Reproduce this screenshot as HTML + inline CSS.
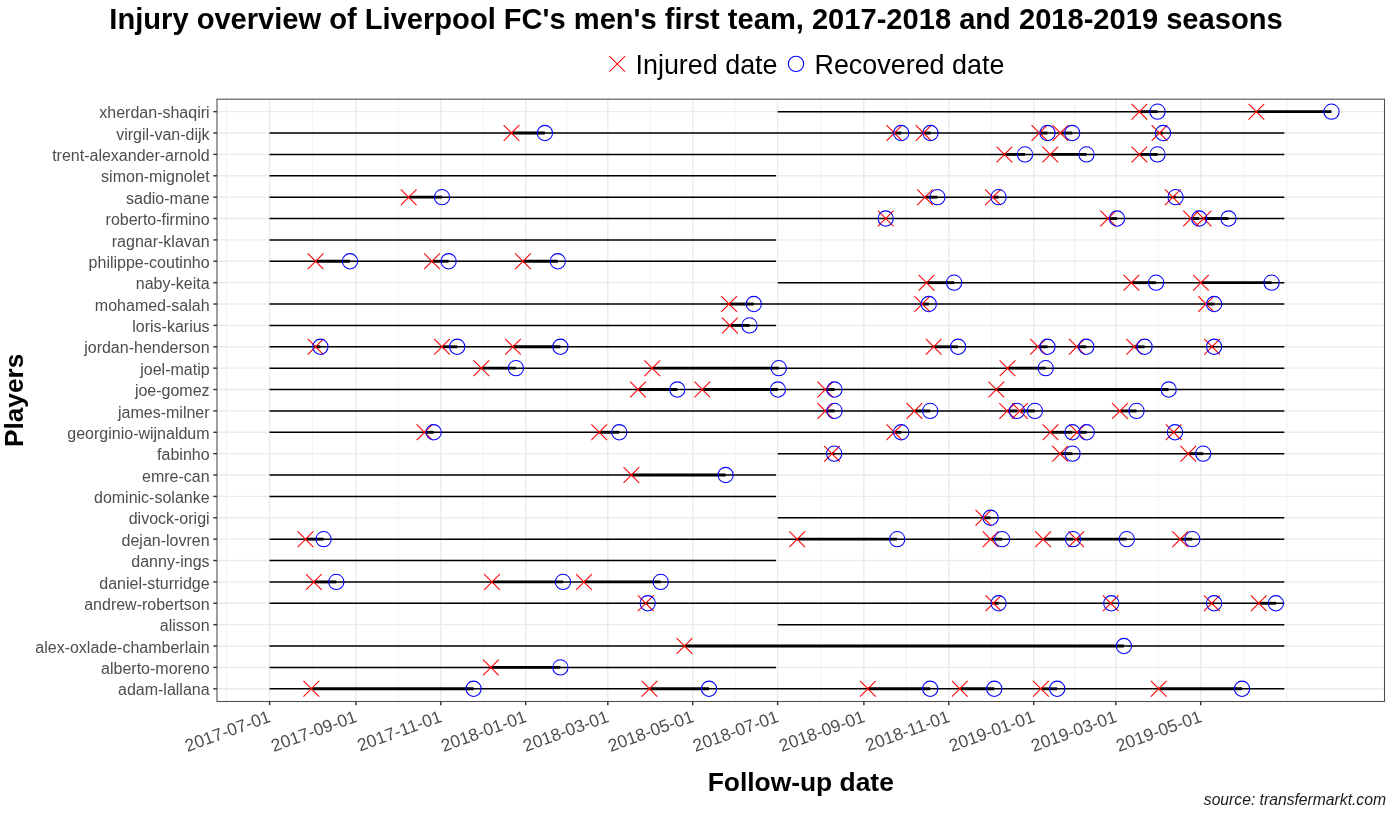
<!DOCTYPE html><html><head><meta charset="utf-8"><style>html,body{margin:0;padding:0;background:#fff;width:1392px;height:816px;overflow:hidden}svg{display:block;will-change:transform}text{font-family:"Liberation Sans",sans-serif}</style></head><body>
<svg width="1392" height="816" viewBox="0 0 1392 816">
<rect x="0" y="0" width="1392" height="816" fill="#fff"/>
<text x="696" y="28.7" text-anchor="middle" font-size="29.1" font-weight="700" fill="#000">Injury overview of Liverpool FC's men's first team, 2017-2018 and 2018-2019 seasons</text>
<g stroke="#FF0000" stroke-width="1.05"><line x1="609.35" y1="56.05" x2="625.05" y2="71.75"/><line x1="609.35" y1="71.75" x2="625.05" y2="56.05"/></g>
<circle cx="796" cy="63.9" r="7.65" fill="none" stroke="#0000FF" stroke-width="1.05"/>
<text x="635.5" y="73.7" font-size="26.9" fill="#000">Injured date</text>
<text x="814.5" y="73.9" font-size="26.9" fill="#000">Recovered date</text>
<g stroke="#EBEBEB"><line x1="226.45" y1="99.2" x2="226.45" y2="701.5" stroke-width="0.71"/><line x1="312.75" y1="99.2" x2="312.75" y2="701.5" stroke-width="0.71"/><line x1="398.34" y1="99.2" x2="398.34" y2="701.5" stroke-width="0.71"/><line x1="483.24" y1="99.2" x2="483.24" y2="701.5" stroke-width="0.71"/><line x1="566.75" y1="99.2" x2="566.75" y2="701.5" stroke-width="0.71"/><line x1="650.26" y1="99.2" x2="650.26" y2="701.5" stroke-width="0.71"/><line x1="735.16" y1="99.2" x2="735.16" y2="701.5" stroke-width="0.71"/><line x1="820.75" y1="99.2" x2="820.75" y2="701.5" stroke-width="0.71"/><line x1="906.35" y1="99.2" x2="906.35" y2="701.5" stroke-width="0.71"/><line x1="991.25" y1="99.2" x2="991.25" y2="701.5" stroke-width="0.71"/><line x1="1074.76" y1="99.2" x2="1074.76" y2="701.5" stroke-width="0.71"/><line x1="1158.26" y1="99.2" x2="1158.26" y2="701.5" stroke-width="0.71"/><line x1="1243.86" y1="99.2" x2="1243.86" y2="701.5" stroke-width="0.71"/><line x1="1287.01" y1="99.2" x2="1287.01" y2="701.5" stroke-width="0.71"/><line x1="269.6" y1="99.2" x2="269.6" y2="701.5" stroke-width="1.42"/><line x1="355.89" y1="99.2" x2="355.89" y2="701.5" stroke-width="1.42"/><line x1="440.79" y1="99.2" x2="440.79" y2="701.5" stroke-width="1.42"/><line x1="525.69" y1="99.2" x2="525.69" y2="701.5" stroke-width="1.42"/><line x1="607.81" y1="99.2" x2="607.81" y2="701.5" stroke-width="1.42"/><line x1="692.71" y1="99.2" x2="692.71" y2="701.5" stroke-width="1.42"/><line x1="777.61" y1="99.2" x2="777.61" y2="701.5" stroke-width="1.42"/><line x1="863.9" y1="99.2" x2="863.9" y2="701.5" stroke-width="1.42"/><line x1="948.8" y1="99.2" x2="948.8" y2="701.5" stroke-width="1.42"/><line x1="1033.7" y1="99.2" x2="1033.7" y2="701.5" stroke-width="1.42"/><line x1="1115.81" y1="99.2" x2="1115.81" y2="701.5" stroke-width="1.42"/><line x1="1200.71" y1="99.2" x2="1200.71" y2="701.5" stroke-width="1.42"/><line x1="217" y1="111.66" x2="1384.5" y2="111.66" stroke-width="1.42"/><line x1="217" y1="133.03" x2="1384.5" y2="133.03" stroke-width="1.42"/><line x1="217" y1="154.41" x2="1384.5" y2="154.41" stroke-width="1.42"/><line x1="217" y1="175.78" x2="1384.5" y2="175.78" stroke-width="1.42"/><line x1="217" y1="197.16" x2="1384.5" y2="197.16" stroke-width="1.42"/><line x1="217" y1="218.53" x2="1384.5" y2="218.53" stroke-width="1.42"/><line x1="217" y1="239.91" x2="1384.5" y2="239.91" stroke-width="1.42"/><line x1="217" y1="261.28" x2="1384.5" y2="261.28" stroke-width="1.42"/><line x1="217" y1="282.66" x2="1384.5" y2="282.66" stroke-width="1.42"/><line x1="217" y1="304.03" x2="1384.5" y2="304.03" stroke-width="1.42"/><line x1="217" y1="325.41" x2="1384.5" y2="325.41" stroke-width="1.42"/><line x1="217" y1="346.78" x2="1384.5" y2="346.78" stroke-width="1.42"/><line x1="217" y1="368.16" x2="1384.5" y2="368.16" stroke-width="1.42"/><line x1="217" y1="389.53" x2="1384.5" y2="389.53" stroke-width="1.42"/><line x1="217" y1="410.91" x2="1384.5" y2="410.91" stroke-width="1.42"/><line x1="217" y1="432.28" x2="1384.5" y2="432.28" stroke-width="1.42"/><line x1="217" y1="453.66" x2="1384.5" y2="453.66" stroke-width="1.42"/><line x1="217" y1="475.03" x2="1384.5" y2="475.03" stroke-width="1.42"/><line x1="217" y1="496.41" x2="1384.5" y2="496.41" stroke-width="1.42"/><line x1="217" y1="517.78" x2="1384.5" y2="517.78" stroke-width="1.42"/><line x1="217" y1="539.16" x2="1384.5" y2="539.16" stroke-width="1.42"/><line x1="217" y1="560.53" x2="1384.5" y2="560.53" stroke-width="1.42"/><line x1="217" y1="581.91" x2="1384.5" y2="581.91" stroke-width="1.42"/><line x1="217" y1="603.28" x2="1384.5" y2="603.28" stroke-width="1.42"/><line x1="217" y1="624.66" x2="1384.5" y2="624.66" stroke-width="1.42"/><line x1="217" y1="646.03" x2="1384.5" y2="646.03" stroke-width="1.42"/><line x1="217" y1="667.41" x2="1384.5" y2="667.41" stroke-width="1.42"/><line x1="217" y1="688.78" x2="1384.5" y2="688.78" stroke-width="1.42"/></g>
<g stroke="#000" stroke-width="1.5"><line x1="777.7" y1="111.66" x2="1284.3" y2="111.66"/><line x1="269.5" y1="133.03" x2="1284.3" y2="133.03"/><line x1="269.5" y1="154.41" x2="1284.3" y2="154.41"/><line x1="269.5" y1="175.78" x2="776.1" y2="175.78"/><line x1="269.5" y1="197.16" x2="1284.3" y2="197.16"/><line x1="269.5" y1="218.53" x2="1284.3" y2="218.53"/><line x1="269.5" y1="239.91" x2="776.1" y2="239.91"/><line x1="269.5" y1="261.28" x2="776.1" y2="261.28"/><line x1="777.7" y1="282.66" x2="1284.3" y2="282.66"/><line x1="269.5" y1="304.03" x2="1284.3" y2="304.03"/><line x1="269.5" y1="325.41" x2="776.1" y2="325.41"/><line x1="269.5" y1="346.78" x2="1284.3" y2="346.78"/><line x1="269.5" y1="368.16" x2="1284.3" y2="368.16"/><line x1="269.5" y1="389.53" x2="1284.3" y2="389.53"/><line x1="269.5" y1="410.91" x2="1284.3" y2="410.91"/><line x1="269.5" y1="432.28" x2="1284.3" y2="432.28"/><line x1="777.7" y1="453.66" x2="1284.3" y2="453.66"/><line x1="269.5" y1="475.03" x2="776.1" y2="475.03"/><line x1="269.5" y1="496.41" x2="776.1" y2="496.41"/><line x1="777.7" y1="517.78" x2="1284.3" y2="517.78"/><line x1="269.5" y1="539.16" x2="1284.3" y2="539.16"/><line x1="269.5" y1="560.53" x2="776.1" y2="560.53"/><line x1="269.5" y1="581.91" x2="1284.3" y2="581.91"/><line x1="269.5" y1="603.28" x2="1284.3" y2="603.28"/><line x1="777.7" y1="624.66" x2="1284.3" y2="624.66"/><line x1="269.5" y1="646.03" x2="1284.3" y2="646.03"/><line x1="269.5" y1="667.41" x2="776.1" y2="667.41"/><line x1="269.5" y1="688.78" x2="1284.3" y2="688.78"/></g>
<g stroke="#000" stroke-width="2.85"><line x1="1139.4" y1="111.66" x2="1157.5" y2="111.66"/><line x1="1256.4" y1="111.66" x2="1331.5" y2="111.66"/><line x1="511.5" y1="133.03" x2="544.9" y2="133.03"/><line x1="894.3" y1="133.03" x2="901.2" y2="133.03"/><line x1="923.6" y1="133.03" x2="930.5" y2="133.03"/><line x1="1039.4" y1="133.03" x2="1047.5" y2="133.03"/><line x1="1060.4" y1="133.03" x2="1072.2" y2="133.03"/><line x1="1159.5" y1="133.03" x2="1163" y2="133.03"/><line x1="1004.4" y1="154.41" x2="1025" y2="154.41"/><line x1="1050.3" y1="154.41" x2="1086.5" y2="154.41"/><line x1="1139.4" y1="154.41" x2="1157.5" y2="154.41"/><line x1="408.7" y1="197.16" x2="442" y2="197.16"/><line x1="925" y1="197.16" x2="937.4" y2="197.16"/><line x1="992.9" y1="197.16" x2="998.6" y2="197.16"/><line x1="1172.8" y1="197.16" x2="1175.6" y2="197.16"/><line x1="1108.2" y1="218.53" x2="1117" y2="218.53"/><line x1="1191.1" y1="218.53" x2="1199.2" y2="218.53"/><line x1="1203.6" y1="218.53" x2="1228.5" y2="218.53"/><line x1="315.6" y1="261.28" x2="350" y2="261.28"/><line x1="432" y1="261.28" x2="448.6" y2="261.28"/><line x1="523" y1="261.28" x2="557.8" y2="261.28"/><line x1="926.5" y1="282.66" x2="954.1" y2="282.66"/><line x1="1131.4" y1="282.66" x2="1156.1" y2="282.66"/><line x1="1200.9" y1="282.66" x2="1271.6" y2="282.66"/><line x1="729.1" y1="304.03" x2="753.8" y2="304.03"/><line x1="922.2" y1="304.03" x2="928.8" y2="304.03"/><line x1="1206.1" y1="304.03" x2="1214.1" y2="304.03"/><line x1="729.9" y1="325.41" x2="749.5" y2="325.41"/><line x1="315.6" y1="346.78" x2="320.4" y2="346.78"/><line x1="442" y1="346.78" x2="457.2" y2="346.78"/><line x1="513" y1="346.78" x2="560.4" y2="346.78"/><line x1="933.7" y1="346.78" x2="958.1" y2="346.78"/><line x1="1038" y1="346.78" x2="1047.5" y2="346.78"/><line x1="1076.8" y1="346.78" x2="1086.3" y2="346.78"/><line x1="1134.2" y1="346.78" x2="1144.6" y2="346.78"/><line x1="1212.1" y1="346.78" x2="1214.1" y2="346.78"/><line x1="481.4" y1="368.16" x2="515.9" y2="368.16"/><line x1="652.3" y1="368.16" x2="778.8" y2="368.16"/><line x1="1007.5" y1="368.16" x2="1045.7" y2="368.16"/><line x1="638" y1="389.53" x2="677.3" y2="389.53"/><line x1="702.3" y1="389.53" x2="777.9" y2="389.53"/><line x1="825.3" y1="389.53" x2="834.5" y2="389.53"/><line x1="996.3" y1="389.53" x2="1168.7" y2="389.53"/><line x1="825.3" y1="410.91" x2="834.5" y2="410.91"/><line x1="914.4" y1="410.91" x2="930.2" y2="410.91"/><line x1="1007.2" y1="410.91" x2="1016.9" y2="410.91"/><line x1="1019.8" y1="410.91" x2="1034.9" y2="410.91"/><line x1="1119.9" y1="410.91" x2="1136.5" y2="410.91"/><line x1="424.5" y1="432.28" x2="433.7" y2="432.28"/><line x1="599.2" y1="432.28" x2="619.3" y2="432.28"/><line x1="894.3" y1="432.28" x2="901.2" y2="432.28"/><line x1="1050.5" y1="432.28" x2="1072.4" y2="432.28"/><line x1="1077.2" y1="432.28" x2="1086.7" y2="432.28"/><line x1="1173.6" y1="432.28" x2="1175" y2="432.28"/><line x1="832" y1="453.66" x2="834.2" y2="453.66"/><line x1="1060.1" y1="453.66" x2="1072.5" y2="453.66"/><line x1="1188.3" y1="453.66" x2="1203.2" y2="453.66"/><line x1="631.4" y1="475.03" x2="725.6" y2="475.03"/><line x1="983.4" y1="517.78" x2="990.6" y2="517.78"/><line x1="305.5" y1="539.16" x2="323.6" y2="539.16"/><line x1="797.2" y1="539.16" x2="897.2" y2="539.16"/><line x1="990.6" y1="539.16" x2="1002.1" y2="539.16"/><line x1="1043.1" y1="539.16" x2="1073" y2="539.16"/><line x1="1076.2" y1="539.16" x2="1126.8" y2="539.16"/><line x1="1180.2" y1="539.16" x2="1192.3" y2="539.16"/><line x1="313.8" y1="581.91" x2="336.3" y2="581.91"/><line x1="492" y1="581.91" x2="563" y2="581.91"/><line x1="584" y1="581.91" x2="660.7" y2="581.91"/><line x1="645.7" y1="603.28" x2="647.7" y2="603.28"/><line x1="993.4" y1="603.28" x2="998.6" y2="603.28"/><line x1="1110.7" y1="603.28" x2="1111.3" y2="603.28"/><line x1="1211.8" y1="603.28" x2="1214.1" y2="603.28"/><line x1="1258.7" y1="603.28" x2="1275.9" y2="603.28"/><line x1="684.5" y1="646.03" x2="1123.9" y2="646.03"/><line x1="490.9" y1="667.41" x2="560.4" y2="667.41"/><line x1="311.3" y1="688.78" x2="473.6" y2="688.78"/><line x1="649.5" y1="688.78" x2="709" y2="688.78"/><line x1="867.9" y1="688.78" x2="930.2" y2="688.78"/><line x1="959.8" y1="688.78" x2="994.3" y2="688.78"/><line x1="1040.9" y1="688.78" x2="1057.2" y2="688.78"/><line x1="1158.7" y1="688.78" x2="1242" y2="688.78"/></g>
<g stroke="#FF0000" stroke-width="1.05" fill="none"><path d="M1131.55 103.81L1147.25 119.51M1131.55 119.51L1147.25 103.81"/><path d="M1248.55 103.81L1264.25 119.51M1248.55 119.51L1264.25 103.81"/><path d="M503.65 125.19L519.35 140.88M503.65 140.88L519.35 125.19"/><path d="M886.45 125.19L902.15 140.88M886.45 140.88L902.15 125.19"/><path d="M915.75 125.19L931.45 140.88M915.75 140.88L931.45 125.19"/><path d="M1031.55 125.19L1047.25 140.88M1031.55 140.88L1047.25 125.19"/><path d="M1052.55 125.19L1068.25 140.88M1052.55 140.88L1068.25 125.19"/><path d="M1151.65 125.19L1167.35 140.88M1151.65 140.88L1167.35 125.19"/><path d="M996.55 146.56L1012.25 162.26M996.55 162.26L1012.25 146.56"/><path d="M1042.45 146.56L1058.15 162.26M1042.45 162.26L1058.15 146.56"/><path d="M1131.55 146.56L1147.25 162.26M1131.55 162.26L1147.25 146.56"/><path d="M400.85 189.31L416.55 205.01M400.85 205.01L416.55 189.31"/><path d="M917.15 189.31L932.85 205.01M917.15 205.01L932.85 189.31"/><path d="M985.05 189.31L1000.75 205.01M985.05 205.01L1000.75 189.31"/><path d="M1164.95 189.31L1180.65 205.01M1164.95 205.01L1180.65 189.31"/><path d="M877.85 210.69L893.55 226.38M877.85 226.38L893.55 210.69"/><path d="M1100.35 210.69L1116.05 226.38M1100.35 226.38L1116.05 210.69"/><path d="M1183.25 210.69L1198.95 226.38M1183.25 226.38L1198.95 210.69"/><path d="M1195.75 210.69L1211.45 226.38M1195.75 226.38L1211.45 210.69"/><path d="M307.75 253.43L323.45 269.13M307.75 269.13L323.45 253.43"/><path d="M424.15 253.43L439.85 269.13M424.15 269.13L439.85 253.43"/><path d="M515.15 253.43L530.85 269.13M515.15 269.13L530.85 253.43"/><path d="M918.65 274.81L934.35 290.51M918.65 290.51L934.35 274.81"/><path d="M1123.55 274.81L1139.25 290.51M1123.55 290.51L1139.25 274.81"/><path d="M1193.05 274.81L1208.75 290.51M1193.05 290.51L1208.75 274.81"/><path d="M721.25 296.18L736.95 311.88M721.25 311.88L736.95 296.18"/><path d="M914.35 296.18L930.05 311.88M914.35 311.88L930.05 296.18"/><path d="M1198.25 296.18L1213.95 311.88M1198.25 311.88L1213.95 296.18"/><path d="M722.05 317.56L737.75 333.26M722.05 333.26L737.75 317.56"/><path d="M307.75 338.93L323.45 354.63M307.75 354.63L323.45 338.93"/><path d="M434.15 338.93L449.85 354.63M434.15 354.63L449.85 338.93"/><path d="M505.15 338.93L520.85 354.63M505.15 354.63L520.85 338.93"/><path d="M925.85 338.93L941.55 354.63M925.85 354.63L941.55 338.93"/><path d="M1030.15 338.93L1045.85 354.63M1030.15 354.63L1045.85 338.93"/><path d="M1068.95 338.93L1084.65 354.63M1068.95 354.63L1084.65 338.93"/><path d="M1126.35 338.93L1142.05 354.63M1126.35 354.63L1142.05 338.93"/><path d="M1204.25 338.93L1219.95 354.63M1204.25 354.63L1219.95 338.93"/><path d="M473.55 360.31L489.25 376.01M473.55 376.01L489.25 360.31"/><path d="M644.45 360.31L660.15 376.01M644.45 376.01L660.15 360.31"/><path d="M999.65 360.31L1015.35 376.01M999.65 376.01L1015.35 360.31"/><path d="M630.15 381.68L645.85 397.38M630.15 397.38L645.85 381.68"/><path d="M694.45 381.68L710.15 397.38M694.45 397.38L710.15 381.68"/><path d="M817.45 381.68L833.15 397.38M817.45 397.38L833.15 381.68"/><path d="M988.45 381.68L1004.15 397.38M988.45 397.38L1004.15 381.68"/><path d="M817.45 403.06L833.15 418.76M817.45 418.76L833.15 403.06"/><path d="M906.55 403.06L922.25 418.76M906.55 418.76L922.25 403.06"/><path d="M999.35 403.06L1015.05 418.76M999.35 418.76L1015.05 403.06"/><path d="M1011.95 403.06L1027.65 418.76M1011.95 418.76L1027.65 403.06"/><path d="M1112.05 403.06L1127.75 418.76M1112.05 418.76L1127.75 403.06"/><path d="M416.65 424.43L432.35 440.13M416.65 440.13L432.35 424.43"/><path d="M591.35 424.43L607.05 440.13M591.35 440.13L607.05 424.43"/><path d="M886.45 424.43L902.15 440.13M886.45 440.13L902.15 424.43"/><path d="M1042.65 424.43L1058.35 440.13M1042.65 440.13L1058.35 424.43"/><path d="M1069.35 424.43L1085.05 440.13M1069.35 440.13L1085.05 424.43"/><path d="M1165.75 424.43L1181.45 440.13M1165.75 440.13L1181.45 424.43"/><path d="M824.15 445.81L839.85 461.51M824.15 461.51L839.85 445.81"/><path d="M1052.25 445.81L1067.95 461.51M1052.25 461.51L1067.95 445.81"/><path d="M1180.45 445.81L1196.15 461.51M1180.45 461.51L1196.15 445.81"/><path d="M623.55 467.18L639.25 482.88M623.55 482.88L639.25 467.18"/><path d="M975.55 509.93L991.25 525.63M975.55 525.63L991.25 509.93"/><path d="M297.65 531.31L313.35 547.01M297.65 547.01L313.35 531.31"/><path d="M789.35 531.31L805.05 547.01M789.35 547.01L805.05 531.31"/><path d="M982.75 531.31L998.45 547.01M982.75 547.01L998.45 531.31"/><path d="M1035.25 531.31L1050.95 547.01M1035.25 547.01L1050.95 531.31"/><path d="M1068.35 531.31L1084.05 547.01M1068.35 547.01L1084.05 531.31"/><path d="M1172.35 531.31L1188.05 547.01M1172.35 547.01L1188.05 531.31"/><path d="M305.95 574.06L321.65 589.76M305.95 589.76L321.65 574.06"/><path d="M484.15 574.06L499.85 589.76M484.15 589.76L499.85 574.06"/><path d="M576.15 574.06L591.85 589.76M576.15 589.76L591.85 574.06"/><path d="M637.85 595.43L653.55 611.13M637.85 611.13L653.55 595.43"/><path d="M985.55 595.43L1001.25 611.13M985.55 611.13L1001.25 595.43"/><path d="M1102.85 595.43L1118.55 611.13M1102.85 611.13L1118.55 595.43"/><path d="M1203.95 595.43L1219.65 611.13M1203.95 611.13L1219.65 595.43"/><path d="M1250.85 595.43L1266.55 611.13M1250.85 611.13L1266.55 595.43"/><path d="M676.65 638.18L692.35 653.88M676.65 653.88L692.35 638.18"/><path d="M483.05 659.56L498.75 675.26M483.05 675.26L498.75 659.56"/><path d="M303.45 680.93L319.15 696.63M303.45 696.63L319.15 680.93"/><path d="M641.65 680.93L657.35 696.63M641.65 696.63L657.35 680.93"/><path d="M860.05 680.93L875.75 696.63M860.05 696.63L875.75 680.93"/><path d="M951.95 680.93L967.65 696.63M951.95 696.63L967.65 680.93"/><path d="M1033.05 680.93L1048.75 696.63M1033.05 696.63L1048.75 680.93"/><path d="M1150.85 680.93L1166.55 696.63M1150.85 696.63L1166.55 680.93"/></g>
<g stroke="#0000FF" stroke-width="1.05" fill="none"><circle cx="1157.5" cy="111.66" r="7.65"/><circle cx="1331.5" cy="111.66" r="7.65"/><circle cx="544.9" cy="133.03" r="7.65"/><circle cx="901.2" cy="133.03" r="7.65"/><circle cx="930.5" cy="133.03" r="7.65"/><circle cx="1047.5" cy="133.03" r="7.65"/><circle cx="1072.2" cy="133.03" r="7.65"/><circle cx="1163" cy="133.03" r="7.65"/><circle cx="1025" cy="154.41" r="7.65"/><circle cx="1086.5" cy="154.41" r="7.65"/><circle cx="1157.5" cy="154.41" r="7.65"/><circle cx="442" cy="197.16" r="7.65"/><circle cx="937.4" cy="197.16" r="7.65"/><circle cx="998.6" cy="197.16" r="7.65"/><circle cx="1175.6" cy="197.16" r="7.65"/><circle cx="885.7" cy="218.53" r="7.65"/><circle cx="1117" cy="218.53" r="7.65"/><circle cx="1199.2" cy="218.53" r="7.65"/><circle cx="1228.5" cy="218.53" r="7.65"/><circle cx="350" cy="261.28" r="7.65"/><circle cx="448.6" cy="261.28" r="7.65"/><circle cx="557.8" cy="261.28" r="7.65"/><circle cx="954.1" cy="282.66" r="7.65"/><circle cx="1156.1" cy="282.66" r="7.65"/><circle cx="1271.6" cy="282.66" r="7.65"/><circle cx="753.8" cy="304.03" r="7.65"/><circle cx="928.8" cy="304.03" r="7.65"/><circle cx="1214.1" cy="304.03" r="7.65"/><circle cx="749.5" cy="325.41" r="7.65"/><circle cx="320.4" cy="346.78" r="7.65"/><circle cx="457.2" cy="346.78" r="7.65"/><circle cx="560.4" cy="346.78" r="7.65"/><circle cx="958.1" cy="346.78" r="7.65"/><circle cx="1047.5" cy="346.78" r="7.65"/><circle cx="1086.3" cy="346.78" r="7.65"/><circle cx="1144.6" cy="346.78" r="7.65"/><circle cx="1214.1" cy="346.78" r="7.65"/><circle cx="515.9" cy="368.16" r="7.65"/><circle cx="778.8" cy="368.16" r="7.65"/><circle cx="1045.7" cy="368.16" r="7.65"/><circle cx="677.3" cy="389.53" r="7.65"/><circle cx="777.9" cy="389.53" r="7.65"/><circle cx="834.5" cy="389.53" r="7.65"/><circle cx="1168.7" cy="389.53" r="7.65"/><circle cx="834.5" cy="410.91" r="7.65"/><circle cx="930.2" cy="410.91" r="7.65"/><circle cx="1016.9" cy="410.91" r="7.65"/><circle cx="1034.9" cy="410.91" r="7.65"/><circle cx="1136.5" cy="410.91" r="7.65"/><circle cx="433.7" cy="432.28" r="7.65"/><circle cx="619.3" cy="432.28" r="7.65"/><circle cx="901.2" cy="432.28" r="7.65"/><circle cx="1072.4" cy="432.28" r="7.65"/><circle cx="1086.7" cy="432.28" r="7.65"/><circle cx="1175" cy="432.28" r="7.65"/><circle cx="834.2" cy="453.66" r="7.65"/><circle cx="1072.5" cy="453.66" r="7.65"/><circle cx="1203.2" cy="453.66" r="7.65"/><circle cx="725.6" cy="475.03" r="7.65"/><circle cx="990.6" cy="517.78" r="7.65"/><circle cx="323.6" cy="539.16" r="7.65"/><circle cx="897.2" cy="539.16" r="7.65"/><circle cx="1002.1" cy="539.16" r="7.65"/><circle cx="1073" cy="539.16" r="7.65"/><circle cx="1126.8" cy="539.16" r="7.65"/><circle cx="1192.3" cy="539.16" r="7.65"/><circle cx="336.3" cy="581.91" r="7.65"/><circle cx="563" cy="581.91" r="7.65"/><circle cx="660.7" cy="581.91" r="7.65"/><circle cx="647.7" cy="603.28" r="7.65"/><circle cx="998.6" cy="603.28" r="7.65"/><circle cx="1111.3" cy="603.28" r="7.65"/><circle cx="1214.1" cy="603.28" r="7.65"/><circle cx="1275.9" cy="603.28" r="7.65"/><circle cx="1123.9" cy="646.03" r="7.65"/><circle cx="560.4" cy="667.41" r="7.65"/><circle cx="473.6" cy="688.78" r="7.65"/><circle cx="709" cy="688.78" r="7.65"/><circle cx="930.2" cy="688.78" r="7.65"/><circle cx="994.3" cy="688.78" r="7.65"/><circle cx="1057.2" cy="688.78" r="7.65"/><circle cx="1242" cy="688.78" r="7.65"/></g>
<rect x="217" y="99.2" width="1167.5" height="602.3" fill="none" stroke="#4d4d4d" stroke-width="1.07"/>
<g stroke="#333333" stroke-width="1.42"><line x1="213.33" y1="111.66" x2="217" y2="111.66"/><line x1="213.33" y1="133.03" x2="217" y2="133.03"/><line x1="213.33" y1="154.41" x2="217" y2="154.41"/><line x1="213.33" y1="175.78" x2="217" y2="175.78"/><line x1="213.33" y1="197.16" x2="217" y2="197.16"/><line x1="213.33" y1="218.53" x2="217" y2="218.53"/><line x1="213.33" y1="239.91" x2="217" y2="239.91"/><line x1="213.33" y1="261.28" x2="217" y2="261.28"/><line x1="213.33" y1="282.66" x2="217" y2="282.66"/><line x1="213.33" y1="304.03" x2="217" y2="304.03"/><line x1="213.33" y1="325.41" x2="217" y2="325.41"/><line x1="213.33" y1="346.78" x2="217" y2="346.78"/><line x1="213.33" y1="368.16" x2="217" y2="368.16"/><line x1="213.33" y1="389.53" x2="217" y2="389.53"/><line x1="213.33" y1="410.91" x2="217" y2="410.91"/><line x1="213.33" y1="432.28" x2="217" y2="432.28"/><line x1="213.33" y1="453.66" x2="217" y2="453.66"/><line x1="213.33" y1="475.03" x2="217" y2="475.03"/><line x1="213.33" y1="496.41" x2="217" y2="496.41"/><line x1="213.33" y1="517.78" x2="217" y2="517.78"/><line x1="213.33" y1="539.16" x2="217" y2="539.16"/><line x1="213.33" y1="560.53" x2="217" y2="560.53"/><line x1="213.33" y1="581.91" x2="217" y2="581.91"/><line x1="213.33" y1="603.28" x2="217" y2="603.28"/><line x1="213.33" y1="624.66" x2="217" y2="624.66"/><line x1="213.33" y1="646.03" x2="217" y2="646.03"/><line x1="213.33" y1="667.41" x2="217" y2="667.41"/><line x1="213.33" y1="688.78" x2="217" y2="688.78"/><line x1="269.6" y1="701.5" x2="269.6" y2="705.17"/><line x1="355.89" y1="701.5" x2="355.89" y2="705.17"/><line x1="440.79" y1="701.5" x2="440.79" y2="705.17"/><line x1="525.69" y1="701.5" x2="525.69" y2="705.17"/><line x1="607.81" y1="701.5" x2="607.81" y2="705.17"/><line x1="692.71" y1="701.5" x2="692.71" y2="705.17"/><line x1="777.61" y1="701.5" x2="777.61" y2="705.17"/><line x1="863.9" y1="701.5" x2="863.9" y2="705.17"/><line x1="948.8" y1="701.5" x2="948.8" y2="705.17"/><line x1="1033.7" y1="701.5" x2="1033.7" y2="705.17"/><line x1="1115.81" y1="701.5" x2="1115.81" y2="705.17"/><line x1="1200.71" y1="701.5" x2="1200.71" y2="705.17"/></g>
<g font-size="16" fill="#4D4D4D" text-anchor="end"><text x="209.6" y="118.36">xherdan-shaqiri</text><text x="209.6" y="139.73">virgil-van-dijk</text><text x="209.6" y="161.11">trent-alexander-arnold</text><text x="209.6" y="182.48">simon-mignolet</text><text x="209.6" y="203.86">sadio-mane</text><text x="209.6" y="225.23">roberto-firmino</text><text x="209.6" y="246.61">ragnar-klavan</text><text x="209.6" y="267.98">philippe-coutinho</text><text x="209.6" y="289.36">naby-keita</text><text x="209.6" y="310.73">mohamed-salah</text><text x="209.6" y="332.11">loris-karius</text><text x="209.6" y="353.48">jordan-henderson</text><text x="209.6" y="374.86">joel-matip</text><text x="209.6" y="396.23">joe-gomez</text><text x="209.6" y="417.61">james-milner</text><text x="209.6" y="438.98">georginio-wijnaldum</text><text x="209.6" y="460.36">fabinho</text><text x="209.6" y="481.73">emre-can</text><text x="209.6" y="503.11">dominic-solanke</text><text x="209.6" y="524.49">divock-origi</text><text x="209.6" y="545.86">dejan-lovren</text><text x="209.6" y="567.24">danny-ings</text><text x="209.6" y="588.61">daniel-sturridge</text><text x="209.6" y="609.99">andrew-robertson</text><text x="209.6" y="631.36">alisson</text><text x="209.6" y="652.74">alex-oxlade-chamberlain</text><text x="209.6" y="674.11">alberto-moreno</text><text x="209.6" y="695.49">adam-lallana</text></g>
<g font-size="17.5" fill="#4D4D4D" text-anchor="end"><text x="271.7" y="721.3" transform="rotate(-20 271.7 721.3)">2017-07-01</text><text x="357.99" y="721.3" transform="rotate(-20 357.99 721.3)">2017-09-01</text><text x="442.89" y="721.3" transform="rotate(-20 442.89 721.3)">2017-11-01</text><text x="527.79" y="721.3" transform="rotate(-20 527.79 721.3)">2018-01-01</text><text x="609.91" y="721.3" transform="rotate(-20 609.91 721.3)">2018-03-01</text><text x="694.81" y="721.3" transform="rotate(-20 694.81 721.3)">2018-05-01</text><text x="779.71" y="721.3" transform="rotate(-20 779.71 721.3)">2018-07-01</text><text x="866" y="721.3" transform="rotate(-20 866 721.3)">2018-09-01</text><text x="950.9" y="721.3" transform="rotate(-20 950.9 721.3)">2018-11-01</text><text x="1035.8" y="721.3" transform="rotate(-20 1035.8 721.3)">2019-01-01</text><text x="1117.91" y="721.3" transform="rotate(-20 1117.91 721.3)">2019-03-01</text><text x="1202.81" y="721.3" transform="rotate(-20 1202.81 721.3)">2019-05-01</text></g>
<text x="800.75" y="791" text-anchor="middle" font-size="26.4" font-weight="700" fill="#000">Follow-up date</text>
<text transform="translate(23.2 400.3) rotate(-90)" x="0" y="0" text-anchor="middle" font-size="26.3" font-weight="700" fill="#000">Players</text>
<text x="1386" y="805.1" text-anchor="end" font-size="15.7" font-style="italic" fill="#1a1a1a">source: transfermarkt.com</text>
</svg></body></html>
